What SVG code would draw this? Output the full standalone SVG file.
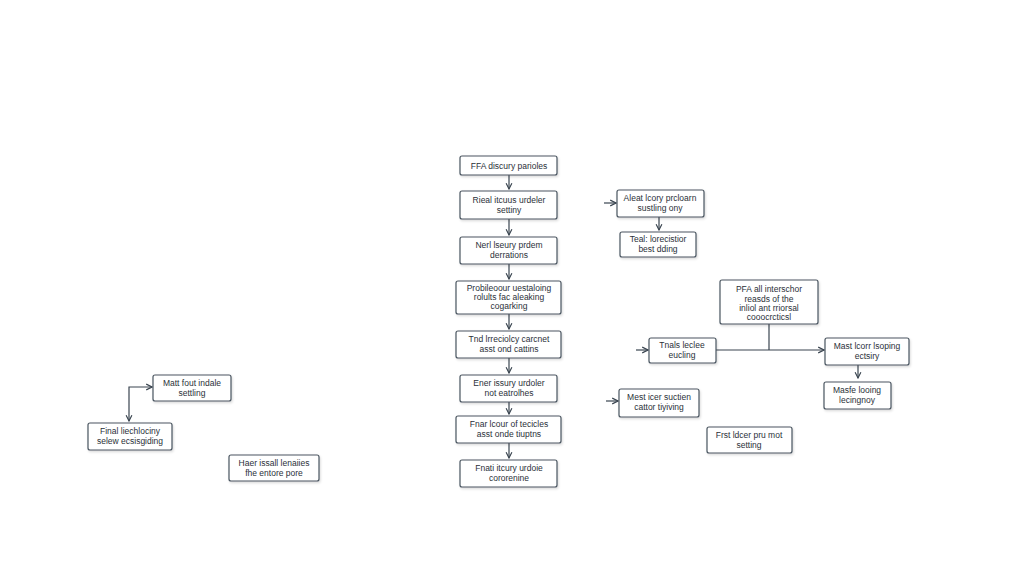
<svg xmlns="http://www.w3.org/2000/svg" width="1024" height="585" viewBox="0 0 1024 585">
<defs>
<marker id="ah" viewBox="0 0 10 10" refX="9" refY="5" markerWidth="6" markerHeight="6" orient="auto-start-reverse"><path d="M1,1 L9,5 L1,9" fill="none" stroke="#3a4550" stroke-width="1.6"/></marker>
<filter id="sh" x="-10%" y="-10%" width="130%" height="140%"><feDropShadow dx="1" dy="1.5" stdDeviation="1.2" flood-color="#000" flood-opacity="0.15"/></filter>
</defs>
<style>
.b{fill:#fff;stroke:#4a5560;stroke-width:1.2;filter:url(#sh)}
text{font-family:"Liberation Sans",Arial,sans-serif;font-size:8.5px;fill:#2a3038;text-anchor:middle}
.c{stroke:#3a4550;stroke-width:1.2;fill:none}
</style>
<rect width="1024" height="585" fill="#fff"/>
<g id="connectors">
<path class="c" marker-end="url(#ah)" d="M509,175V189"/>
<path class="c" marker-end="url(#ah)" d="M509,219V235"/>
<path class="c" marker-end="url(#ah)" d="M509,264V279"/>
<path class="c" marker-end="url(#ah)" d="M509,314V329"/>
<path class="c" marker-end="url(#ah)" d="M509,358V373"/>
<path class="c" marker-end="url(#ah)" d="M509,402V414"/>
<path class="c" marker-end="url(#ah)" d="M509,443V458"/>
<path class="c" marker-end="url(#ah)" d="M604,203H616"/>
<path class="c" marker-end="url(#ah)" d="M659,217V230"/>
<path class="c" marker-end="url(#ah)" d="M636,350H648"/>
<path class="c" marker-end="url(#ah)" d="M716,350H824"/>
<path class="c" d="M769,324V350"/>
<path class="c" marker-end="url(#ah)" d="M858,365V378"/>
<path class="c" marker-end="url(#ah)" d="M606,401H618"/>
<path class="c" marker-start="url(#ah)" marker-end="url(#ah)" d="M129,421V387H152"/>
</g>
<g id="n1"><rect class="b" x="460" y="156" width="97" height="19" rx="2"/><text x="509" y="169">FFA discury parioles</text></g>
<g id="n2"><rect class="b" x="460" y="191" width="97" height="28" rx="2"/><text x="509" y="203">Rieal itcuus urdeler</text><text x="509" y="213">settiny</text></g>
<g id="n3"><rect class="b" x="460" y="237" width="97" height="27" rx="2"/><text x="509" y="248">Nerl lseury prdem</text><text x="509" y="258">derrations</text></g>
<g id="n4"><rect class="b" x="456" y="281" width="105" height="33" rx="2"/><text x="509" y="291">Probileoour uestaloing</text><text x="509" y="300">rolults fac aleaking</text><text x="509" y="309">cogarking</text></g>
<g id="n5"><rect class="b" x="456" y="331" width="105" height="27" rx="2"/><text x="509" y="342">Tnd lrreciolcy carcnet</text><text x="509" y="352">asst ond cattins</text></g>
<g id="n6"><rect class="b" x="460" y="375" width="97" height="27" rx="2"/><text x="509" y="386">Ener issury urdoler</text><text x="509" y="396">not eatrolhes</text></g>
<g id="n7"><rect class="b" x="456" y="416" width="105" height="27" rx="2"/><text x="509" y="427">Fnar lcour of tecicles</text><text x="509" y="437">asst onde tiuptns</text></g>
<g id="n8"><rect class="b" x="460" y="460" width="97" height="27" rx="2"/><text x="509" y="471">Fnati itcury urdoie</text><text x="509" y="481">cororenine</text></g>
<g id="r1"><rect class="b" x="617" y="190" width="87" height="27" rx="2"/><text x="660" y="201">Aleat lcory prcloarn</text><text x="660" y="211">sustling ony</text></g>
<g id="r2"><rect class="b" x="620" y="232" width="76" height="25" rx="2"/><text x="658" y="242">Teal: lorecistior</text><text x="658" y="252">best dding</text></g>
<g id="r3"><rect class="b" x="720" y="280" width="98" height="44" rx="2"/><text x="769" y="292">PFA all interschor</text><text x="769" y="302">reasds of the</text><text x="769" y="311">inliol ant rriorsal</text><text x="769" y="320">cooocrcticsl</text></g>
<g id="r4"><rect class="b" x="649" y="338" width="67" height="25" rx="2"/><text x="682" y="348">Tnals leclee</text><text x="682" y="358">eucling</text></g>
<g id="r5"><rect class="b" x="825" y="338" width="84" height="27" rx="2"/><text x="867" y="349">Mast lcorr lsoping</text><text x="867" y="359">ectsiry</text></g>
<g id="r6"><rect class="b" x="824" y="382" width="67" height="27" rx="2"/><text x="857" y="393">Masfe looing</text><text x="857" y="403">lecingnoy</text></g>
<g id="r7"><rect class="b" x="619" y="389" width="80" height="28" rx="2"/><text x="659" y="400">Mest icer suctien</text><text x="659" y="410">cattor tiyiving</text></g>
<g id="r8"><rect class="b" x="707" y="427" width="85" height="26" rx="2"/><text x="749" y="438">Frst ldcer pru mot</text><text x="749" y="448">setting</text></g>
<g id="l1"><rect class="b" x="153" y="375" width="78" height="26" rx="2"/><text x="192" y="386">Matt fout indale</text><text x="192" y="396">settling</text></g>
<g id="l2"><rect class="b" x="88" y="423" width="84" height="27" rx="2"/><text x="130" y="434">Final liechlociny</text><text x="130" y="444">selew ecsisgiding</text></g>
<g id="l3"><rect class="b" x="229" y="455" width="90" height="26" rx="2"/><text x="274" y="466">Haer issall lenaiies</text><text x="274" y="476">fhe entore pore</text></g>
</svg>
